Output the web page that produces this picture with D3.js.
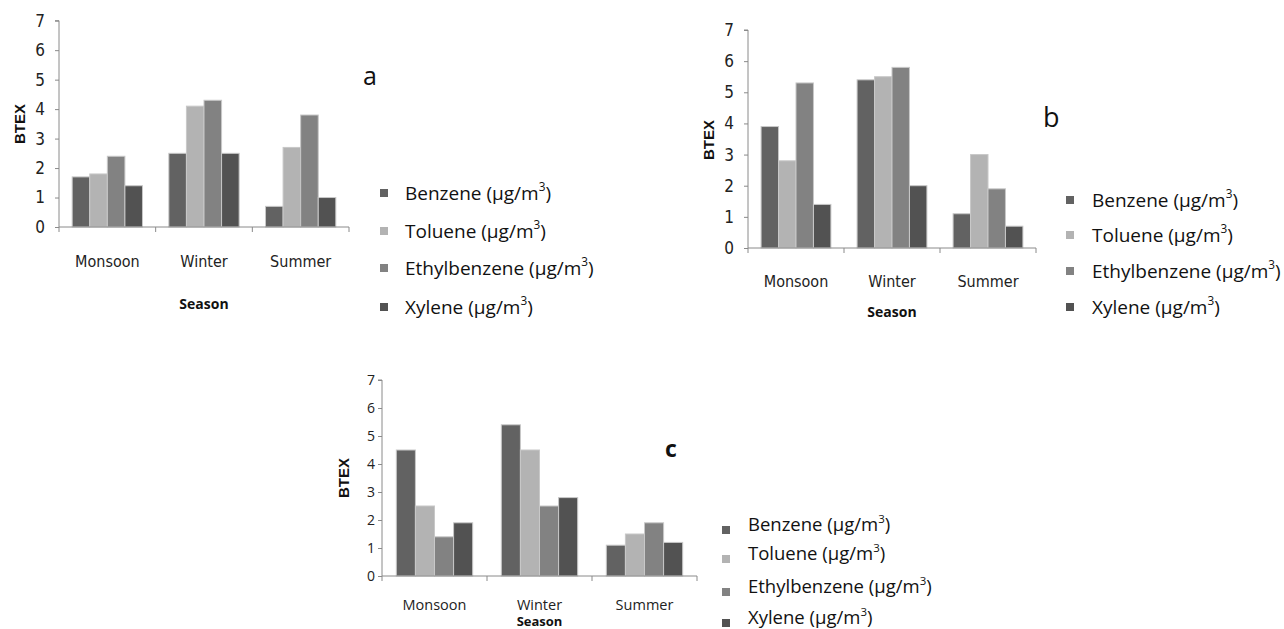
<!DOCTYPE html>
<html>
<head>
<meta charset="utf-8">
<script src="https://cdn.jsdelivr.net/npm/d3@7/dist/d3.min.js"></script>
<style>
  html, body { margin: 0; padding: 0; background: #fff; }
  svg { display: block; }
</style>
</head>
<body>
<svg id="fig" width="1284" height="629"></svg>
<script>
// Seasons on the x axis and the four BTEX compounds
const seasons = ["Monsoon", "Winter", "Summer"];
const compounds = ["Benzene", "Toluene", "Ethylbenzene", "Xylene"];
const yTicks = [0, 1, 2, 3, 4, 5, 6, 7];

// Concentrations (µg/m³) per compound, one value per season
const siteA = {
  Benzene:      [1.7, 2.5, 0.7],
  Toluene:      [1.8, 4.1, 2.7],
  Ethylbenzene: [2.4, 4.3, 3.8],
  Xylene:       [1.4, 2.5, 1.0]
};
const siteB = {
  Benzene:      [3.9, 5.4, 1.1],
  Toluene:      [2.8, 5.5, 3.0],
  Ethylbenzene: [5.3, 5.8, 1.9],
  Xylene:       [1.4, 2.0, 0.7]
};
const siteC = {
  Benzene:      [4.5, 5.4, 1.1],
  Toluene:      [2.5, 4.5, 1.5],
  Ethylbenzene: [1.4, 2.5, 1.9],
  Xylene:       [1.9, 2.8, 1.2]
};

const fills = {
  Benzene: "#626262",
  Toluene: "#b3b3b3",
  Ethylbenzene: "#828282",
  Xylene: "#525252"
};

const svg = d3.select("#fig");
const narrow = "'Liberation Sans Narrow', 'DejaVu Sans Condensed', 'Open Sans', sans-serif";
const plain = "'Open Sans', 'Noto Sans', sans-serif";

// Panel layouts
const panels = [
  {
    data: siteA, tag: "a",
    x0: 59, x1: 349, yTop: 20.7, yBot: 227,
    tickFont: narrow, tickSize: 17, tickRight: 45,
    catFont: narrow, catSize: 16, catY: 267,
    seasonY: 309, seasonSize: 14,
    btexX: 20, btexY: 124,
    tagX: 363, tagY: 85, tagSize: 25, tagWeight: "normal",
    legX: 380, legTextX: 405, legY: [193, 231, 268, 307], legSize: 19, legFont: plain, legMarkDy: 0
  },
  {
    data: siteB, tag: "b",
    x0: 748, x1: 1036, yTop: 30, yBot: 248,
    tickFont: narrow, tickSize: 17, tickRight: 734,
    catFont: narrow, catSize: 16, catY: 287,
    seasonY: 317, seasonSize: 14,
    btexX: 709, btexY: 140,
    tagX: 1043, tagY: 127, tagSize: 27, tagWeight: "normal",
    legX: 1066, legTextX: 1092, legY: [200, 235, 271, 307], legSize: 19, legFont: plain, legMarkDy: 0
  },
  {
    data: siteC, tag: "c",
    x0: 382, x1: 697, yTop: 380, yBot: 576,
    tickFont: plain, tickSize: 14, tickRight: 375,
    catFont: plain, catSize: 14.5, catY: 610,
    seasonY: 626, seasonSize: 13,
    btexX: 344, btexY: 478,
    tagX: 665, tagY: 457, tagSize: 23, tagWeight: "bold",
    legX: 722, legTextX: 748, legY: [525, 554, 587, 618], legSize: 18.5, legFont: plain, legMarkDy: 5
  }
];

function drawPanel(p) {
  const g = svg.append("g");

  const x = d3.scaleBand().domain(seasons).range([p.x0, p.x1]).paddingInner(0).paddingOuter(0);
  const inner = d3.scaleBand().domain(compounds).range([0, x.bandwidth()])
    .paddingInner(0).paddingOuter(0.75);
  const y = d3.scaleLinear().domain([0, 7]).range([p.yBot, p.yTop]);

  // Bars
  compounds.forEach(c => {
    g.selectAll(null)
      .data(seasons.map((s, i) => ({ s, v: p.data[c][i] })))
      .join("rect")
      .attr("x", d => x(d.s) + inner(c))
      .attr("y", d => y(d.v))
      .attr("width", inner.bandwidth())
      .attr("height", d => y(0) - y(d.v))
      .attr("fill", fills[c])
      .attr("stroke", "#c8c8c8")
      .attr("stroke-width", 1);
  });

  // Y axis
  const yAxis = g.append("g")
    .attr("transform", `translate(${p.x0},0)`)
    .call(d3.axisLeft(y).tickValues(yTicks).tickSize(4).tickPadding(p.x0 - p.tickRight - 4).tickFormat(d3.format("d")));
  yAxis.select(".domain").attr("stroke", "#8a8a8a").attr("d", `M-4,${p.yTop}H0V${p.yBot}`);
  yAxis.selectAll(".tick line").attr("stroke", "#8a8a8a");
  yAxis.selectAll(".tick text")
    .attr("font-family", p.tickFont).attr("font-size", p.tickSize).attr("fill", "#222");

  // X axis baseline with boundary ticks
  g.append("line")
    .attr("x1", p.x0).attr("x2", p.x1).attr("y1", p.yBot).attr("y2", p.yBot)
    .attr("stroke", "#8a8a8a");
  const bounds = seasons.map(s => x(s)).concat([x(seasons[seasons.length - 1]) + x.bandwidth()]);
  g.selectAll(null).data(bounds).join("line")
    .attr("x1", d => d).attr("x2", d => d)
    .attr("y1", p.yBot).attr("y2", p.yBot + 5)
    .attr("stroke", "#8a8a8a");

  // Category labels
  g.selectAll(null).data(seasons).join("text")
    .attr("x", d => x(d) + x.bandwidth() / 2)
    .attr("y", p.catY)
    .attr("text-anchor", "middle")
    .attr("font-family", p.catFont).attr("font-size", p.catSize).attr("fill", "#222")
    .text(d => d);

  // Axis titles
  g.append("text")
    .attr("x", (p.x0 + p.x1) / 2).attr("y", p.seasonY)
    .attr("text-anchor", "middle")
    .attr("font-family", plain).attr("font-weight", "bold").attr("font-size", p.seasonSize)
    .attr("fill", "#111").text("Season");
  g.append("text")
    .attr("transform", `translate(${p.btexX},${p.btexY}) rotate(-90)`)
    .attr("text-anchor", "middle").attr("dy", "0.35em")
    .attr("font-family", "'Liberation Sans', Arial, sans-serif").attr("font-weight", "bold").attr("font-size", 15)
    .attr("fill", "#111").text("BTEX");

  // Panel tag
  g.append("text")
    .attr("x", p.tagX).attr("y", p.tagY)
    .attr("font-family", plain).attr("font-size", p.tagSize).attr("font-weight", p.tagWeight)
    .attr("fill", "#111").text(p.tag);

  // Legend
  compounds.forEach((c, i) => {
    const ly = p.legY[i];
    g.append("rect")
      .attr("x", p.legX).attr("y", ly - 4 + p.legMarkDy)
      .attr("width", 8).attr("height", 8)
      .attr("fill", fills[c]);
    const t = g.append("text")
      .attr("x", p.legTextX).attr("y", ly).attr("dy", "0.35em")
      .attr("font-family", p.legFont).attr("font-size", p.legSize).attr("fill", "#111");
    t.append("tspan").text(`${c} (µg/m`);
    t.append("tspan").attr("font-size", p.legSize * 0.62).attr("dy", -p.legSize * 0.45).text("3");
    t.append("tspan").attr("dy", p.legSize * 0.45).text(")");
  });
}

panels.forEach(drawPanel);
</script>
</body>
</html>
